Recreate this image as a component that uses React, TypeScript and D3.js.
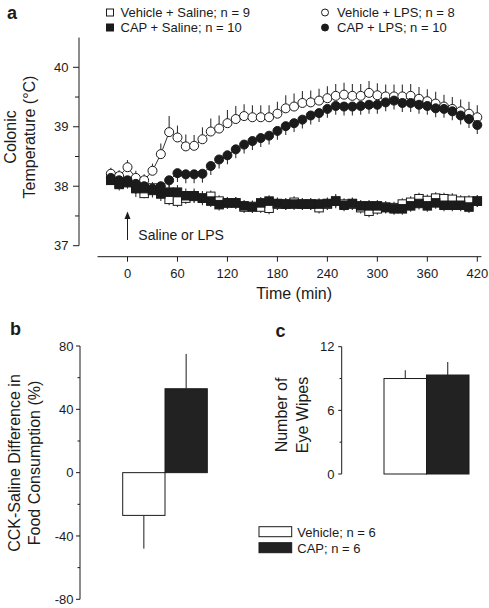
import React from "react";
import * as d3 from "d3";

// ---------- Panel a data ----------
const times = [-20, -10, 0, 10, 20, 30, 40, 50, 60, 70, 80, 90, 100, 110, 120, 130, 140, 150, 160, 170, 180, 190, 200, 210, 220, 230, 240, 250, 260, 270, 280, 290, 300, 310, 320, 330, 340, 350, 360, 370, 380, 390, 400, 410, 420];

const vehSaline = [38.10, 38.04, 38.08, 37.97, 37.88, 37.97, 37.89, 37.78, 37.75, 37.80, 37.83, 37.80, 37.83, 37.75, 37.72, 37.72, 37.65, 37.66, 37.65, 37.63, 37.70, 37.70, 37.73, 37.70, 37.70, 37.64, 37.70, 37.75, 37.70, 37.70, 37.64, 37.58, 37.62, 37.65, 37.64, 37.70, 37.73, 37.79, 37.76, 37.80, 37.79, 37.78, 37.75, 37.75, 37.75];
const vehSalineErr = [0.08, 0.08, 0.08, 0.1, 0.08, 0.1, 0.1, 0.1, 0.1, 0.1, 0.1, 0.1, 0.1, 0.1, 0.1, 0.1, 0.1, 0.1, 0.1, 0.1, 0.1, 0.1, 0.1, 0.1, 0.1, 0.1, 0.1, 0.1, 0.1, 0.1, 0.1, 0.1, 0.1, 0.1, 0.1, 0.1, 0.1, 0.1, 0.1, 0.1, 0.1, 0.1, 0.1, 0.1, 0.1];

const capSaline = [38.10, 38.03, 38.06, 37.96, 37.96, 37.93, 37.87, 37.90, 37.90, 37.84, 37.84, 37.80, 37.75, 37.69, 37.72, 37.72, 37.67, 37.65, 37.72, 37.75, 37.71, 37.70, 37.70, 37.70, 37.70, 37.70, 37.71, 37.75, 37.68, 37.71, 37.67, 37.67, 37.67, 37.64, 37.62, 37.62, 37.67, 37.71, 37.67, 37.72, 37.68, 37.68, 37.68, 37.65, 37.75];
const capSalineErr = [0.08, 0.1, 0.1, 0.14, 0.1, 0.12, 0.12, 0.12, 0.12, 0.12, 0.12, 0.12, 0.1, 0.1, 0.1, 0.1, 0.1, 0.1, 0.1, 0.1, 0.1, 0.1, 0.1, 0.1, 0.1, 0.1, 0.1, 0.12, 0.1, 0.1, 0.1, 0.1, 0.1, 0.1, 0.1, 0.1, 0.1, 0.1, 0.1, 0.1, 0.1, 0.1, 0.1, 0.1, 0.1];

const vehLPS = [38.21, 38.17, 38.32, 38.14, 38.10, 38.26, 38.54, 38.91, 38.82, 38.67, 38.68, 38.79, 38.92, 38.97, 39.06, 39.13, 39.18, 39.16, 39.16, 39.16, 39.22, 39.31, 39.34, 39.40, 39.41, 39.44, 39.48, 39.52, 39.54, 39.52, 39.52, 39.57, 39.53, 39.51, 39.51, 39.51, 39.52, 39.47, 39.43, 39.39, 39.34, 39.30, 39.26, 39.22, 39.16];
const vehLPSErr = [0.1, 0.1, 0.12, 0.12, 0.1, 0.12, 0.18, 0.27, 0.2, 0.2, 0.18, 0.2, 0.22, 0.22, 0.22, 0.22, 0.2, 0.2, 0.2, 0.2, 0.2, 0.22, 0.22, 0.2, 0.2, 0.2, 0.2, 0.2, 0.2, 0.2, 0.2, 0.2, 0.2, 0.2, 0.2, 0.2, 0.2, 0.2, 0.2, 0.2, 0.2, 0.2, 0.2, 0.2, 0.2];

const capLPS = [38.14, 38.10, 38.10, 38.04, 38.00, 37.96, 38.00, 38.10, 38.22, 38.20, 38.20, 38.21, 38.34, 38.45, 38.52, 38.62, 38.70, 38.76, 38.81, 38.85, 38.93, 39.01, 39.06, 39.12, 39.19, 39.23, 39.30, 39.35, 39.34, 39.34, 39.35, 39.37, 39.37, 39.41, 39.44, 39.40, 39.40, 39.37, 39.35, 39.31, 39.30, 39.26, 39.19, 39.13, 39.03];
const capLPSErr = [0.1, 0.1, 0.1, 0.12, 0.12, 0.12, 0.12, 0.12, 0.15, 0.15, 0.15, 0.15, 0.15, 0.15, 0.15, 0.15, 0.15, 0.15, 0.15, 0.15, 0.15, 0.15, 0.15, 0.15, 0.15, 0.15, 0.15, 0.15, 0.15, 0.15, 0.15, 0.15, 0.15, 0.15, 0.15, 0.15, 0.15, 0.15, 0.15, 0.15, 0.15, 0.15, 0.15, 0.15, 0.15];

const xTicksA = [0, 60, 120, 180, 240, 300, 360, 420];
const yTicksA = [37, 38, 39, 40];
const yMinorA = [37.5, 38.5, 39.5];

// ---------- Panel b / c data ----------
const groups = ["Vehicle; n = 6", "CAP; n = 6"];
const foodDiff = [-27, 53];
const foodDiffErr = [21, 22];
const yTicksB = [80, 40, 0, -40, -80];
const yMinorB = [60, 20, -20, -60];

const eyeWipes = [9.0, 9.33];
const eyeWipesErr = [0.78, 1.23];
const yTicksC = [0, 6, 12];
const yMinorC = [3, 9];

const FONT = "'Liberation Sans', Arial, Helvetica, sans-serif";
const INK = "#1b1b1b";

export default function App() {
  // Panel a scales
  const xA = d3.scaleLinear().domain([0, 420]).range([127.5, 477.3]);
  const yA = d3.scaleLinear().domain([37, 40]).range([245.7, 67.3]);

  const line = d3
    .line<number>()
    .x((_, i) => xA(times[i]))
    .y((d) => yA(d));

  // Panel b scales
  const yB = d3.scaleLinear().domain([-80, 80]).range([599.3, 346]);
  const xB = d3.scaleBand<string>().domain(groups).range([122.7, 207.3]).paddingInner(0);

  // Panel c scales
  const yC = d3.scaleLinear().domain([0, 12]).range([474, 346.7]);
  const xC = d3.scaleBand<string>().domain(groups).range([384, 469]).paddingInner(0);

  const sq = 8.5;
  const r = 4.5;

  const errBars = (vals: number[], errs: number[], dir: "up" | "down" | "both", key: string) =>
    vals.map((v, i) => {
      const x = xA(times[i]);
      const y1 = dir === "down" ? yA(v) : yA(v + errs[i]);
      const y2 = dir === "up" ? yA(v) : yA(v - errs[i]);
      return <line key={key + i} x1={x} x2={x} y1={y1} y2={y2} stroke="#333" strokeWidth={1.1} />;
    });

  const squares = (vals: number[], fill: string, key: string) =>
    vals.map((v, i) => (
      <rect
        key={key + i}
        x={xA(times[i]) - sq / 2}
        y={yA(v) - sq / 2}
        width={sq}
        height={sq}
        fill={fill}
        stroke={INK}
        strokeWidth={1}
      />
    ));

  const circles = (vals: number[], fill: string, key: string) =>
    vals.map((v, i) => (
      <circle key={key + i} cx={xA(times[i])} cy={yA(v)} r={r} fill={fill} stroke={INK} strokeWidth={1} />
    ));

  const axisX = xA.range()[0];
  const xAxisY = 256.7;

  return (
    <svg
      width={489}
      height={608}
      style={{ position: "absolute", left: 0, top: 0, background: "#fff" }}
      fontFamily={FONT}
    >
      <rect x={0} y={0} width={489} height={608} fill="#fff" />

      {/* ===== Panel a ===== */}
      <text x={7} y={18.7} fontSize={18} fontWeight="bold" fill={INK}>a</text>

      {/* legend a */}
      <rect x={106.5} y={9} width={7} height={7} fill="#fff" stroke={INK} strokeWidth={1} />
      <text x={120.5} y={17} fontSize={13} fill={INK}>Vehicle + Saline; n = 9</text>
      <rect x={106.5} y={24} width={7} height={7} fill={INK} stroke={INK} strokeWidth={1} />
      <text x={120.5} y={32} fontSize={13} fill={INK}>CAP + Saline; n = 10</text>
      <circle cx={325} cy={12.5} r={3.5} fill="#fff" stroke={INK} strokeWidth={1} />
      <text x={337} y={17} fontSize={13} fill={INK}>Vehicle + LPS; n = 8</text>
      <circle cx={325} cy={27.5} r={3.5} fill={INK} stroke={INK} strokeWidth={1} />
      <text x={337} y={32} fontSize={13} fill={INK}>CAP + LPS; n = 10</text>

      {/* y axis a */}
      <line x1={79} x2={79} y1={yA(40.5)} y2={yA(37)} stroke={INK} strokeWidth={1} />
      {yTicksA.map((t) => (
        <g key={"yta" + t}>
          <line x1={73} x2={79} y1={yA(t)} y2={yA(t)} stroke={INK} strokeWidth={1} />
          <text x={68.5} y={yA(t)} dy="0.36em" textAnchor="end" fontSize={13} fill={INK}>{t}</text>
        </g>
      ))}
      {yMinorA.map((t) => (
        <line key={"yma" + t} x1={75} x2={79} y1={yA(t)} y2={yA(t)} stroke={INK} strokeWidth={1} />
      ))}
      <text transform="translate(15.5,137) rotate(-90)" textAnchor="middle" fontSize={16} fill={INK}>Colonic</text>
      <text transform="translate(35,137) rotate(-90)" textAnchor="middle" fontSize={16} fill={INK}>Temperature (°C)</text>

      {/* x axis a */}
      <line x1={xA(-36)} x2={xA(425)} y1={xAxisY} y2={xAxisY} stroke={INK} strokeWidth={1} />
      {xTicksA.map((t) => (
        <g key={"xta" + t}>
          <line x1={xA(t)} x2={xA(t)} y1={xAxisY} y2={xAxisY + 5} stroke={INK} strokeWidth={1} />
          <text x={xA(t)} y={278.3} textAnchor="middle" fontSize={13} fill={INK}>{t}</text>
        </g>
      ))}
      <text x={xA(200)} y={299.3} textAnchor="middle" fontSize={16} fill={INK}>Time (min)</text>

      {/* arrow */}
      <line x1={xA(0)} x2={xA(0)} y1={240} y2={216} stroke={INK} strokeWidth={1} />
      <path d={`M${xA(0)},${211.5} L${xA(0) - 3},${219} L${xA(0) + 3},${219} Z`} fill={INK} />
      <text x={138.3} y={240} fontSize={14} fill={INK}>Saline or LPS</text>

      {/* series lines */}
      <path d={line(vehSaline) || ""} fill="none" stroke="#333" strokeWidth={1} />
      <path d={line(capSaline) || ""} fill="none" stroke="#333" strokeWidth={1} />
      <path d={line(vehLPS) || ""} fill="none" stroke="#333" strokeWidth={1} />
      <path d={line(capLPS) || ""} fill="none" stroke="#333" strokeWidth={1} />

      {/* error bars */}
      {errBars(vehSaline, vehSalineErr, "both", "evs")}
      {errBars(capSaline, capSalineErr, "both", "ecs")}
      {errBars(vehLPS, vehLPSErr, "up", "evl")}
      {errBars(capLPS, capLPSErr, "down", "ecl")}

      {/* markers */}
      {squares(vehSaline, "#fff", "mvs")}
      {squares(capSaline, INK, "mcs")}
      {circles(vehLPS, "#fff", "mvl")}
      {circles(capLPS, INK, "mcl")}

      {/* ===== Panel b ===== */}
      <text x={10} y={335} fontSize={18} fontWeight="bold" fill={INK}>b</text>
      <line x1={80} x2={80} y1={yB(80)} y2={yB(-80)} stroke={INK} strokeWidth={1} />
      {yTicksB.map((t) => (
        <g key={"ytb" + t}>
          <line x1={76} x2={80} y1={yB(t)} y2={yB(t)} stroke={INK} strokeWidth={1} />
          <text x={73.5} y={yB(t)} dy="0.36em" textAnchor="end" fontSize={13} fill={INK}>{t}</text>
        </g>
      ))}
      {yMinorB.map((t) => (
        <line key={"ymb" + t} x1={77.5} x2={80} y1={yB(t)} y2={yB(t)} stroke={INK} strokeWidth={1} />
      ))}
      <text transform="translate(20,463) rotate(-90)" textAnchor="middle" fontSize={16} fill={INK}>CCK-Saline Difference in</text>
      <text transform="translate(40,463) rotate(-90)" textAnchor="middle" fontSize={16} fill={INK}>Food Consumption (%)</text>
      {groups.map((g, i) => {
        const v = foodDiff[i];
        const x = xB(g)!;
        const w = xB.bandwidth();
        const cx = x + w / 2;
        const tip = v >= 0 ? v + foodDiffErr[i] : v - foodDiffErr[i];
        return (
          <g key={"bb" + g}>
            <line x1={cx} x2={cx} y1={yB(v)} y2={yB(tip)} stroke={INK} strokeWidth={1} />
            <rect
              x={x}
              y={Math.min(yB(v), yB(0))}
              width={w}
              height={Math.abs(yB(v) - yB(0))}
              fill={i === 0 ? "#fff" : "#222"}
              stroke={INK}
              strokeWidth={1}
            />
          </g>
        );
      })}

      {/* ===== Panel c ===== */}
      <text x={275.5} y={336.7} fontSize={18} fontWeight="bold" fill={INK}>c</text>
      <line x1={341.7} x2={341.7} y1={yC(12)} y2={yC(0)} stroke={INK} strokeWidth={1} />
      {yTicksC.map((t) => (
        <g key={"ytc" + t}>
          <line x1={338.2} x2={341.7} y1={yC(t)} y2={yC(t)} stroke={INK} strokeWidth={1} />
          <text x={334.5} y={yC(t)} dy="0.36em" textAnchor="end" fontSize={13} fill={INK}>{t}</text>
        </g>
      ))}
      {yMinorC.map((t) => (
        <line key={"ymc" + t} x1={339.5} x2={341.7} y1={yC(t)} y2={yC(t)} stroke={INK} strokeWidth={1} />
      ))}
      <text transform="translate(287,415) rotate(-90)" textAnchor="middle" fontSize={16} fill={INK}>Number of</text>
      <text transform="translate(308,415) rotate(-90)" textAnchor="middle" fontSize={16} fill={INK}>Eye Wipes</text>
      {groups.map((g, i) => {
        const v = eyeWipes[i];
        const x = xC(g)!;
        const w = xC.bandwidth();
        const cx = x + w / 2;
        return (
          <g key={"cb" + g}>
            <line x1={cx} x2={cx} y1={yC(v)} y2={yC(v + eyeWipesErr[i])} stroke={INK} strokeWidth={1} />
            <rect
              x={x}
              y={yC(v)}
              width={w}
              height={yC(0) - yC(v)}
              fill={i === 0 ? "#fff" : "#222"}
              stroke={INK}
              strokeWidth={1}
            />
          </g>
        );
      })}

      {/* legend b/c */}
      {groups.map((g, i) => (
        <g key={"lg" + g}>
          <rect x={259} y={526.7 + i * 16} width={32.7} height={10} fill={i === 0 ? "#fff" : "#222"} stroke={INK} strokeWidth={1} />
          <text x={297.3} y={536.5 + i * 16} fontSize={13} fill={INK}>{g}</text>
        </g>
      ))}
    </svg>
  );
}
